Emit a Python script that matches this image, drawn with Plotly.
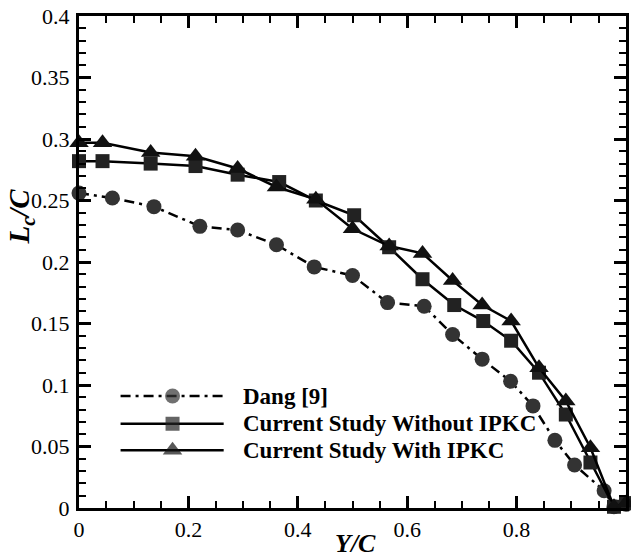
import plotly.graph_objects as go

# ---- data ----
dang_x = [0.0, 0.061, 0.137, 0.221, 0.29, 0.361, 0.43, 0.5, 0.564, 0.631, 0.683, 0.737, 0.789, 0.83, 0.87, 0.906, 0.96, 0.978, 1.0]
dang_y = [0.256, 0.252, 0.245, 0.229, 0.226, 0.214, 0.196, 0.189, 0.167, 0.164, 0.141, 0.121, 0.103, 0.083, 0.055, 0.035, 0.014, 0.001, 0.003]

wo_x = [0.0, 0.043, 0.131, 0.213, 0.29, 0.366, 0.433, 0.503, 0.567, 0.628, 0.686, 0.739, 0.79, 0.841, 0.89, 0.935, 0.978, 1.0]
wo_y = [0.282, 0.282, 0.280, 0.278, 0.271, 0.265, 0.250, 0.238, 0.212, 0.186, 0.165, 0.152, 0.136, 0.110, 0.076, 0.037, 0.001, 0.004]

w_x = [0.0, 0.043, 0.131, 0.213, 0.29, 0.361, 0.433, 0.5, 0.567, 0.628, 0.683, 0.737, 0.79, 0.841, 0.89, 0.935, 0.978, 1.0]
w_y = [0.297, 0.297, 0.289, 0.286, 0.276, 0.261, 0.251, 0.227, 0.213, 0.207, 0.185, 0.165, 0.152, 0.114, 0.087, 0.049, 0.001, 0.004]

legend_names = ["Dang [9]", "Current Study Without IPKC", "Current Study With IPKC"]
x_ticks = [0, 0.2, 0.4, 0.6, 0.8, 1]
x_labels = ["0", "0.2", "0.4", "0.6", "0.8", "1"]
y_ticks = [0, 0.05, 0.1, 0.15, 0.2, 0.25, 0.3, 0.35, 0.4]
y_labels = ["0", "0.05", "0.1", "0.15", "0.2", "0.25", "0.3", "0.35", "0.4"]

# ---- styles ----
FONT = "Liberation Serif, Times New Roman, serif"
DASHDOT = "10px,5px,3px,5px"
styles = [
    dict(dash=DASHDOT, symbol="circle", size=15, color="#333333"),
    dict(dash="solid", symbol="square", size=14, color="#222222"),
    dict(dash="solid", symbol="triangle-up", size=17, color="#111111"),
]

fig = go.Figure()
for (xs, ys), st in zip([(dang_x, dang_y), (wo_x, wo_y), (w_x, w_y)], styles):
    fig.add_trace(go.Scatter(
        x=xs, y=ys, mode="lines+markers", cliponaxis=False, showlegend=False,
        line=dict(color="black", width=2.5, dash=st["dash"]),
        marker=dict(symbol=st["symbol"], size=st["size"], color=st["color"], line=dict(width=0)),
    ))

# ---- custom legend (layout positions in data units of the plot) ----
leg_x0, leg_xm, leg_x1, leg_tx = 0.076, 0.171, 0.2645, 0.297
leg_rows = [0.091, 0.0685, 0.047]
for name, yy, st in zip(legend_names, leg_rows, styles):
    fig.add_trace(go.Scatter(
        x=[leg_x0, leg_xm, leg_x1], y=[yy, yy, yy], mode="lines+markers", showlegend=False,
        line=dict(color="black", width=2.5, dash=st["dash"]),
        marker=dict(symbol=st["symbol"], size=[0, st["size"], 0], color=st["color"], line=dict(width=0)),
        hoverinfo="skip",
    ))
    fig.add_annotation(x=leg_tx, y=yy, xref="x", yref="y", text="<b>%s</b>" % name,
                       showarrow=False, xanchor="left", yanchor="middle",
                       font=dict(family=FONT, size=23, color="black"))

axis_common = dict(
    showline=True, linecolor="black", linewidth=3, mirror="ticks",
    ticks="inside", ticklen=12, tickwidth=3, tickcolor="black",
    showgrid=False, zeroline=False, automargin=False,
    tickfont=dict(family=FONT, size=22, color="black"),
)

fig.update_xaxes(range=[0, 1], tickvals=x_ticks, ticktext=x_labels,
                 minor=dict(dtick=0.05, ticks="inside", ticklen=7, tickwidth=1.5, tickcolor="black", showgrid=False),
                 ticklabelstandoff=0,
                 **axis_common)
fig.update_yaxes(range=[0, 0.4], tickvals=y_ticks, ticktext=y_labels,
                 minor=dict(dtick=0.01, ticks="inside", ticklen=7, tickwidth=1.5, tickcolor="black", showgrid=False),
                 ticklabelstandoff=2,
                 **axis_common)

fig.add_annotation(x=0.505, y=-0.073, xref="paper", yref="paper",
                   text="<b><i>Y/C</i></b>", showarrow=False, yanchor="middle",
                   font=dict(family=FONT, size=26, color="black"))
fig.add_annotation(x=-0.142, y=0.593, xref="paper", yref="paper", textangle=-90,
                   text="<b><i>L<sub>c</sub>/C</i></b>", showarrow=False,
                   font=dict(family=FONT, size=29, color="black"))

fig.update_layout(
    width=631, height=559,
    margin=dict(l=79, r=5, t=16, b=51),
    plot_bgcolor="white", paper_bgcolor="white",
    showlegend=False,
)

fig.write_html("out.html", config={"displayModeBar": False})
with open("out.html", "r", encoding="utf-8") as f:
    html = f.read()
html = html.replace("<body>", '<body style="margin:0;padding:0;">', 1)
with open("out.html", "w", encoding="utf-8") as f:
    f.write(html)
